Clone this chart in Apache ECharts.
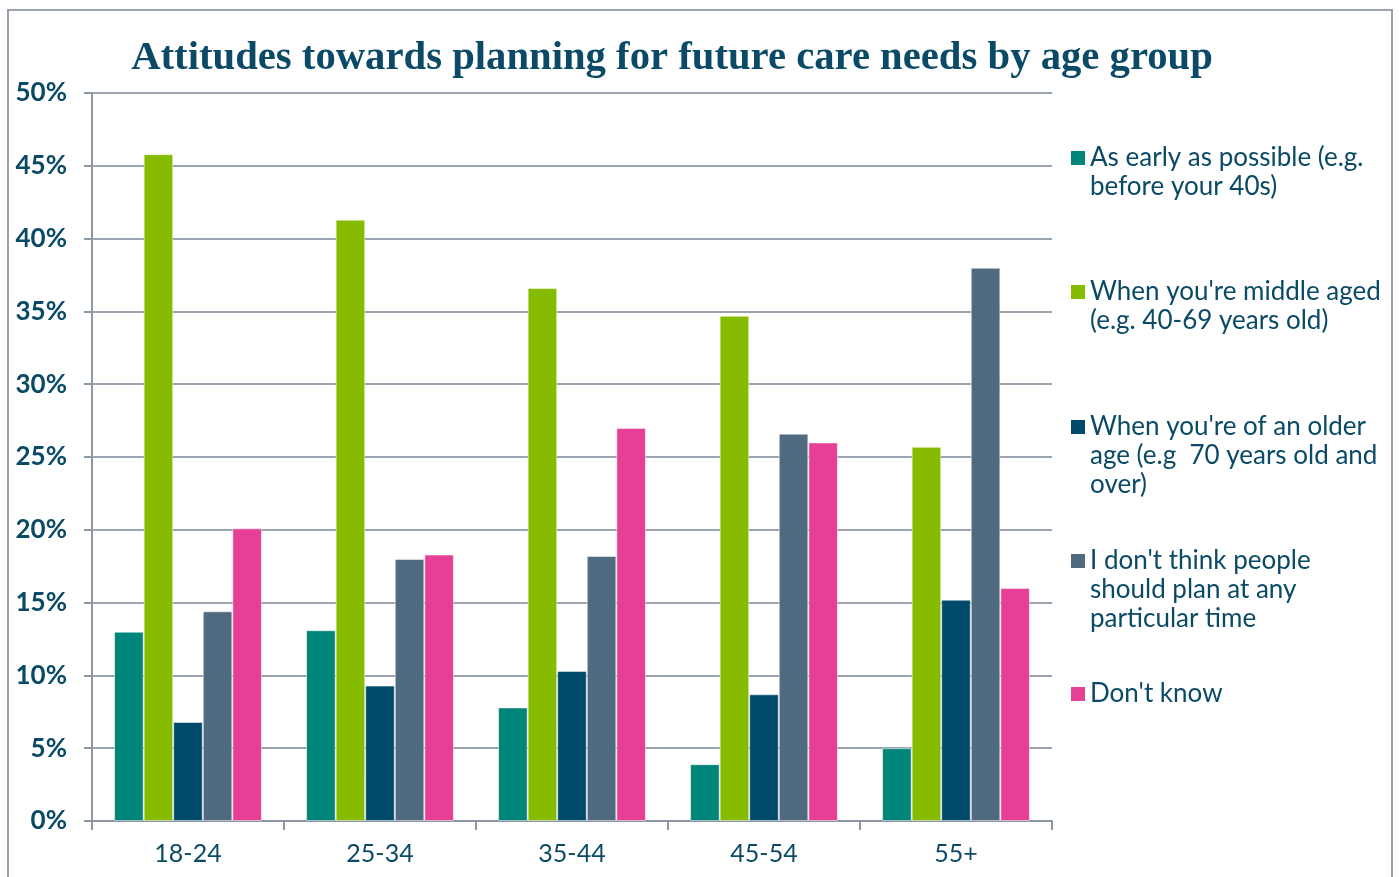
<!DOCTYPE html>
<html>
<head>
<meta charset="utf-8">
<script src="https://cdn.jsdelivr.net/npm/echarts@6/dist/echarts.min.js"></script>
<style>html,body{margin:0;padding:0;background:#fff;}#c{width:1399px;height:877px;}</style>
</head>
<body>
<div id="c"></div>
<script>
const categories = ['18-24', '25-34', '35-44', '45-54', '55+'];
const seriesNames = [
  'As early as possible (e.g.\nbefore your 40s)',
  "When you're middle aged\n(e.g. 40-69 years old)",
  "When you're of an older\nage (e.g  70 years old and\nover)",
  "I don't think people\nshould plan at any\nparticular time",
  "Don't know"
];
const earlyValues = [13.0, 13.1, 7.8, 3.9, 5.0];
const middleValues = [45.8, 41.3, 36.6, 34.7, 25.7];
const olderValues = [6.8, 9.3, 10.3, 8.7, 15.2];
const noPlanValues = [14.4, 18.0, 18.2, 26.6, 38.0];
const dontKnowValues = [20.1, 18.3, 27.0, 26.0, 16.0];
const yTicks = [0, 5, 10, 15, 20, 25, 30, 35, 40, 45, 50];

const colors = ['#00857a', '#86bc00', '#004b6b', '#506a80', '#e63f96'];
const allValues = [earlyValues, middleValues, olderValues, noPlanValues, dontKnowValues];
const textColor = '#0b4a66';
const sans = 'Lato, "Open Sans", sans-serif';
const lineH = 29;
const firstLineCenters = [158, 292, 427, 561, 694];

const chart = echarts.init(document.getElementById('c'));
chart.setOption({
  animation: false,
  backgroundColor: '#fff',
  title: {
    text: 'Attitudes towards planning for future care needs by age group',
    left: 667, top: 33, textAlign: 'center',
    textStyle: { fontFamily: '"Liberation Serif", serif', fontWeight: 'bold', fontSize: 40.7, color: textColor }
  },
  graphic: [{
    type: 'rect', shape: { x: 8, y: 10, width: 1384, height: 900 },
    style: { fill: 'none', stroke: '#9aa3ad', lineWidth: 2 }, silent: true
  }],
  legend: seriesNames.map((n, i) => {
    const lines = n.split('\n').length;
    const h = lineH * lines;
    const icon = 'path://M0,0 M0,7.5 L14,7.5 L14,21.5 L0,21.5 Z M14,' + h;
    return {
      data: [{ name: n, icon: icon }], orient: 'vertical', left: 1071,
      top: firstLineCenters[i] - 14.5, padding: 0,
      itemWidth: 14, itemHeight: h, itemGap: 6,
      symbolKeepAspect: false,
      selectedMode: false,
      itemStyle: { borderWidth: 0 },
      textStyle: { fontFamily: sans, fontSize: 26, color: textColor, lineHeight: lineH }
    };
  }),
  grid: { left: 92, right: 347, top: 93, bottom: 56 },
  xAxis: {
    type: 'category', data: categories,
    axisLine: { lineStyle: { color: '#8c97a3', width: 2 } },
    axisTick: { show: true, length: 9, lineStyle: { color: '#8c97a3', width: 2 } },
    axisLabel: { fontFamily: sans, fontSize: 25, color: textColor, margin: 20 }
  },
  yAxis: {
    type: 'value', min: 0, max: 50, interval: 5,
    axisLine: { show: true, lineStyle: { color: '#8c97a3', width: 2 } },
    axisTick: { show: true, length: 8, lineStyle: { color: '#8c97a3', width: 2 } },
    splitLine: { lineStyle: { color: '#9aa5b0', width: 2 } },
    axisLabel: {
      fontFamily: sans, fontSize: 26, fontWeight: 'bold', color: textColor, margin: 25,
      formatter: v => (yTicks.includes(v) ? v + '%' : '')
    }
  },
  series: allValues.map((vals, i) => ({
    name: seriesNames[i], type: 'bar', data: vals,
    barGap: '0%', barCategoryGap: '23%',
    itemStyle: { color: colors[i], borderColor: 'rgba(255,255,255,0.5)', borderWidth: 1 }
  }))
});
</script>
</body>
</html>
